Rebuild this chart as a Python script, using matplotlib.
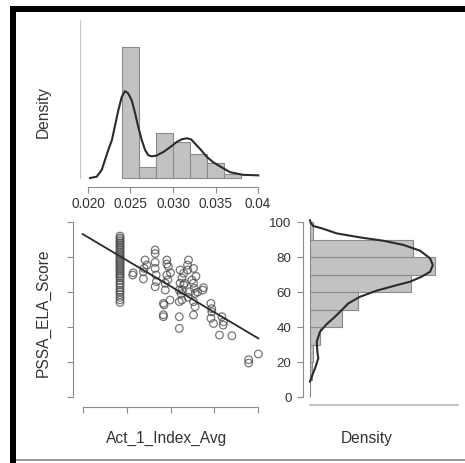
import matplotlib
matplotlib.use('Agg')
import matplotlib.pyplot as plt
from matplotlib.lines import Line2D

plt.rcParams['font.family'] = ['Liberation Sans', 'DejaVu Sans']

# --- data -------------------------------------------------------------
# marginal histogram of Act_1_Index_Avg (density scale, bin width 0.002)
act_edges = [0.024, 0.026, 0.028, 0.030, 0.032, 0.034, 0.036, 0.038]
act_density = [247, 21, 85, 68, 46, 28, 7]

# kernel density of Act_1_Index_Avg
act_kde_x = [0.02024, 0.02102, 0.02161, 0.02200, 0.02239, 0.02282, 0.02318,
             0.02357, 0.02397, 0.02435, 0.02471, 0.02514, 0.02553, 0.02592,
             0.02632, 0.02671, 0.02709, 0.02749, 0.02800, 0.02886, 0.02965,
             0.03044, 0.03102, 0.03161, 0.03212, 0.03259, 0.03329, 0.03397,
             0.03471, 0.03553, 0.03671, 0.03824, 0.04004]
act_kde_y = [0, 2.5, 15, 34, 53, 72, 99, 128, 153, 164, 160, 147, 123, 96,
             72, 53, 43, 41, 42, 49, 58, 68, 73, 75, 73, 65, 53, 40, 30, 22,
             11, 6, 5]

# marginal histogram of PSSA_ELA_Score (density scale, bin width 10)
ela_edges = [0, 10, 20, 30, 40, 50, 60, 70, 80, 90, 100]
ela_density = [0.0, 0.00054, 0.00077, 0.00234, 0.00742, 0.01112, 0.02363,
               0.02925, 0.02410, 0.00070]

# kernel density of PSSA_ELA_Score
ela_kde_y = [101, 99.5, 97.7, 96.4, 93.5, 91.2, 89.3, 86.9, 83.6, 79.2, 75.4,
             71.6, 68.8, 65.9, 63.4, 60.8, 57.3, 53.5, 49.7, 45.9, 41.7, 37.3,
             31.6, 25.9, 22.1, 16.4, 11.6, 8.8]
ela_kde_x = [0.0, 0.00016, 0.00077, 0.00274, 0.00625, 0.01170, 0.01715,
             0.02183, 0.02574, 0.02808, 0.02871, 0.02808, 0.02614, 0.02340,
             0.01949, 0.01561, 0.01170, 0.00896, 0.00742, 0.00585, 0.00391,
             0.00234, 0.00157, 0.00171, 0.00194, 0.00117, 0.00040, 0.0]

# individual students
col_scores = [54, 55.5, 57, 58.5, 60, 61, 62.5, 64, 65, 66.5, 68, 69, 70, 71,
              72, 73, 74, 75, 76, 77, 78, 79, 80, 81, 82, 83, 84, 85, 86, 87,
              88, 89, 90, 91, 92]
other_x = [0.02570, 0.02575,
           0.02691, 0.02691, 0.02710, 0.02730, 0.02700,
           0.02825, 0.02825, 0.02825, 0.02825, 0.02836, 0.02825, 0.02840,
           0.02958, 0.02976, 0.02958, 0.02958, 0.02940, 0.02940, 0.02919,
           0.02995, 0.02919, 0.02919, 0.03000, 0.02970, 0.02927,
           0.03109, 0.03109, 0.03100, 0.03100, 0.03100, 0.03150, 0.03100,
           0.03120, 0.03130,
           0.03194, 0.03205, 0.03194, 0.03150, 0.03243, 0.03262, 0.03262,
           0.03160, 0.03130, 0.03220, 0.03280, 0.03270, 0.03200, 0.03130,
           0.03262, 0.03280, 0.03262, 0.03310, 0.03290,
           0.03368, 0.03375,
           0.03460, 0.03470, 0.03460, 0.03490, 0.03470,
           0.03585, 0.03604, 0.03600, 0.03558, 0.03699,
           0.03890, 0.03890, 0.04000]
other_y = [69.7, 71.0,
           71.6, 67.5, 78.3, 75.4, 73.5,
           84.0, 82.0, 77.0, 73.5, 69.7, 63.0, 66.0,
           78.3, 74.5, 76.0, 69.7, 65.0, 61.1, 53.5,
           55.4, 45.9, 47.0, 71.0, 67.0, 52.6,
           72.6, 65.0, 61.1, 45.9, 39.2, 64.0, 54.5,
           59.0, 68.0,
           75.4, 78.3, 72.6, 70.7, 66.9, 73.5, 65.0,
           65.0, 61.1, 60.2, 59.2, 62.1, 57.0, 55.4,
           54.5, 51.6, 46.9, 60.0, 69.0,
           61.1, 62.5,
           53.5, 48.7, 45.0, 42.0, 50.5,
           45.9, 43.0, 41.1, 35.4, 35.0,
           21.3, 19.4, 24.6]
col_x = 0.02425

# least squares line
fit_x = [0.020, 0.040]
fit_y = [93.1, 33.5]

x_ticks = [0.020, 0.025, 0.030, 0.035, 0.040]
x_ticklabels = ['0.020', '0.025', '0.030', '0.035', '0.04']
y_ticks = [0, 20, 40, 60, 80, 100]

# --- layout -------------------------------------------------------------
W, H = 465, 463
fig = plt.figure(figsize=(W / 100, H / 100), dpi=100)


def box(x0, y0, x1, y1):
    return [x0 / W, 1 - y1 / H, (x1 - x0) / W, (y1 - y0) / H]


bar_face = '#c2c2c2'
bar_edge = '#8a8a8a'
curve_col = '#2b2b2b'
axis_col = '#8c8c8c'
text_col = '#333333'
tick_pt = 4.3

# top: histogram of the index
ax_top = fig.add_axes(box(80, 20, 266, 187))
ax_top.bar(act_edges[:-1], act_density, width=0.002, align='edge',
           color=bar_face, edgecolor=bar_edge, linewidth=0.8)
ax_top.plot(act_kde_x, act_kde_y, color=curve_col, lw=1.5)
ax_top.set_xlim(0.019059, 0.040941)
ax_top.set_ylim(-16.98, 298.2)
for s in ['top', 'right']:
    ax_top.spines[s].set_visible(False)
ax_top.spines['left'].set_color('#c8c8c8')
ax_top.spines['left'].set_bounds(0, 298)
ax_top.spines['bottom'].set_color(axis_col)
ax_top.spines['bottom'].set_bounds(0.020, 0.040)
ax_top.set_xticks(x_ticks)
ax_top.set_xticklabels(x_ticklabels)
ax_top.set_yticks([])
ax_top.tick_params(axis='x', length=tick_pt, width=0.8, color=axis_col,
                   pad=3, labelsize=9.8, labelcolor=text_col)

# bottom left: scatter with fitted line
ax_sc = fig.add_axes(box(73, 218, 265, 407))
ax_sc.scatter([col_x] * len(col_scores), col_scores, s=30, facecolors='none',
              edgecolors='#4a4a4a', linewidths=0.9, alpha=0.75)
ax_sc.scatter(other_x, other_y, s=30, facecolors='none',
              edgecolors='#4a4a4a', linewidths=0.9, alpha=0.75)
ax_sc.plot(fit_x, fit_y, color=curve_col, lw=1.3)
ax_sc.set_xlim(0.018895, 0.040763)
ax_sc.set_ylim(-5.71, 102.3)
for s in ['top', 'right']:
    ax_sc.spines[s].set_visible(False)
for s in ['left', 'bottom']:
    ax_sc.spines[s].set_color(axis_col)
ax_sc.spines['bottom'].set_bounds(0.020, 0.040)
ax_sc.spines['left'].set_bounds(0, 100)
ax_sc.set_xticks(x_ticks)
ax_sc.set_yticks(y_ticks)
ax_sc.set_xticklabels([])
ax_sc.set_yticklabels([])
ax_sc.tick_params(length=tick_pt, width=0.8, color=axis_col)

# bottom right: histogram of the score, drawn sideways
ax_r = fig.add_axes(box(303, 218, 458, 405))
ax_r.barh(ela_edges[:-1], ela_density, height=10, align='edge',
          color=bar_face, edgecolor=bar_edge, linewidth=0.8)
ax_r.plot(ela_kde_x, ela_kde_y, color=curve_col, lw=1.5)
ax_r.set_xlim(-0.00164, 0.0346)
ax_r.set_ylim(-4.571, 102.29)
for s in ['top', 'right']:
    ax_r.spines[s].set_visible(False)
ax_r.spines['left'].set_color(axis_col)
ax_r.spines['left'].set_bounds(0, 100)
ax_r.spines['bottom'].set_color('#c4c4c4')
ax_r.spines['bottom'].set_linewidth(1.5)
ax_r.spines['bottom'].set_bounds(0, 0.0346)
ax_r.set_yticks(y_ticks)
ax_r.set_xticks([])
ax_r.tick_params(axis='y', length=tick_pt, width=0.8, color=axis_col,
                 pad=4, labelsize=9.6, labelcolor=text_col)

# axis titles
lab = dict(ha='center', va='center', fontsize=11.2, color=text_col)
fig.text(43 / W, 1 - 112 / H, 'Density', rotation=90, **lab)
fig.text(43 / W, 1 - 313 / H, 'PSSA_ELA_Score', rotation=90, **lab)
fig.text(167 / W, 1 - 438 / H, 'Act_1_Index_Avg', **lab)
fig.text(367 / W, 1 - 438 / H, 'Density', **lab)

# surrounding frame
def frame_line(x0, y0, x1, y1, color, px):
    fig.add_artist(Line2D([x0 / W, x1 / W], [1 - y0 / H, 1 - y1 / H],
                          transform=fig.transFigure, color=color,
                          lw=px * 0.72, solid_capstyle='butt'))


frame_line(10, 9, 465, 9, 'black', 6)
frame_line(13, 6, 13, 463, 'black', 6)
frame_line(16, 460, 465, 460, '#777777', 1.5)

fig.savefig('out.png', dpi=100)
